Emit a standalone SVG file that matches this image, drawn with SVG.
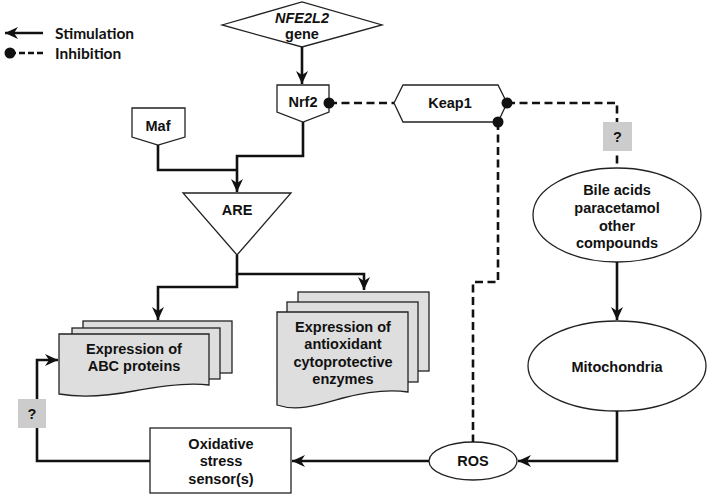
<svg xmlns="http://www.w3.org/2000/svg" width="709" height="497" viewBox="0 0 709 497">
<style>
.t{font-family:"Liberation Sans",Arial,sans-serif;font-weight:bold;font-size:14.5px;fill:#111;text-anchor:middle}
.lg{font-family:Lato,"Liberation Sans",sans-serif;font-weight:bold;font-size:15.5px;fill:#111}
.sh{fill:#fff;stroke:#222;stroke-width:1.3}
.doc{fill:#dedede;stroke:#222;stroke-width:1.3}
.q{fill:#cccccc}
.s{fill:none;stroke:#111;stroke-width:2.6}
.d{fill:none;stroke:#111;stroke-width:2.6;stroke-dasharray:8,4.5}
</style>
<defs>
<marker id="ar" markerUnits="userSpaceOnUse" markerWidth="14" markerHeight="14" viewBox="0 0 14 14" refX="13" refY="7" orient="auto">
<path d="M0,1 L13,7 L0,13 L4,7 Z" fill="#111"/>
</marker>
<marker id="dot" markerUnits="userSpaceOnUse" markerWidth="14" markerHeight="14" viewBox="0 0 14 14" refX="7" refY="7" orient="auto">
<circle cx="7" cy="7" r="5.5" fill="#111"/>
</marker>
</defs>

<g id="legend">
<path class="s" d="M43,33 H5" marker-end="url(#ar)"/>
<path class="d" d="M10,53 H43" marker-start="url(#dot)" style="stroke-dasharray:6,3"/>
<text class="lg" x="55" y="39">Stimulation</text>
<text class="lg" x="55" y="59">Inhibition</text>
</g>

<g id="nfe2l2">
<polygon class="sh" points="222,25 302,2 382,25 302,47"/>
<text class="t" x="302" y="23" font-style="italic">NFE2L2</text>
<text class="t" x="302" y="39">gene</text>
</g>

<g id="nrf2">
<polygon class="sh" points="277,85 329,85 329,112 303,122 277,112"/>
<text class="t" x="303" y="107">Nrf2</text>
</g>

<g id="maf">
<polygon class="sh" points="132,108 185,108 185,137 158,145 132,137"/>
<text class="t" x="158" y="131">Maf</text>
</g>

<g id="keap1">
<polygon class="sh" points="394,103 403,85 498,85 507,103 498,122 403,122"/>
<text class="t" x="450" y="108">Keap1</text>
</g>

<g id="are">
<polygon class="sh" points="183,193 291,193 237,255"/>
<text class="t" x="237" y="215">ARE</text>
</g>

<g id="abc">
<rect class="doc" x="83" y="321" width="149" height="52"/>
<rect class="doc" x="72" y="328" width="148" height="51"/>
<path class="doc" d="M59,334 H209 V385 C186,382 160,386 134,391 C108,396 82,398 59,394 Z"/>
<text class="t" x="134" y="354">Expression of</text>
<text class="t" x="134" y="371">ABC proteins</text>
</g>

<g id="enzymes">
<rect class="doc" x="298" y="292" width="131" height="79"/>
<rect class="doc" x="287" y="302" width="131" height="80"/>
<path class="doc" d="M277,312 H408 V392 C388,389 366,392 343,398 C318,405 298,412 277,405 Z"/>
<text class="t" x="343" y="332">Expression of</text>
<text class="t" x="343" y="349">antioxidant</text>
<text class="t" x="343" y="367">cytoprotective</text>
<text class="t" x="343" y="384">enzymes</text>
</g>

<g id="sensor">
<rect class="sh" x="150" y="428" width="141" height="65"/>
<text class="t" x="221" y="449">Oxidative</text>
<text class="t" x="221" y="466">stress</text>
<text class="t" x="221" y="484">sensor(s)</text>
</g>

<g id="ros">
<ellipse class="sh" cx="473" cy="461" rx="44" ry="19"/>
<text class="t" x="473" y="466">ROS</text>
</g>

<g id="mito">
<ellipse class="sh" cx="617" cy="366" rx="89" ry="45"/>
<text class="t" x="617" y="372">Mitochondria</text>
</g>

<g id="bile">
<ellipse class="sh" cx="617" cy="215" rx="84" ry="47"/>
<text class="t" x="617" y="195">Bile acids</text>
<text class="t" x="617" y="213">paracetamol</text>
<text class="t" x="617" y="231">other</text>
<text class="t" x="617" y="248">compounds</text>
</g>

<g id="connectors">
<path class="s" d="M302,47 V84" marker-end="url(#ar)"/>
<path class="s" d="M303,122 V156 H237 V192" marker-end="url(#ar)"/>
<path class="s" d="M158,145 V170 H237"/>
<path class="s" d="M237,255 V274 H364 V290" marker-end="url(#ar)"/>
<path class="s" d="M237,274 V287 H158 V320" marker-end="url(#ar)"/>
<path class="s" d="M617,262 V320" marker-end="url(#ar)"/>
<path class="s" d="M617,411 V461 H518" marker-end="url(#ar)"/>
<path class="s" d="M429,461 H292" marker-end="url(#ar)"/>
<path class="s" d="M150,461 H37 V360 H58" marker-end="url(#ar)"/>
<path class="d" d="M329,103 H394" marker-start="url(#dot)"/>
<path class="d" d="M507,103 H617 V167" marker-start="url(#dot)"/>
<path class="d" d="M498,122 V282 H473 V442" marker-start="url(#dot)"/>
<rect class="q" x="603" y="122" width="29" height="29"/>
<text class="t" x="617.5" y="142">?</text>
<rect class="q" x="18" y="399" width="28" height="29"/>
<text class="t" x="32" y="419">?</text>
</g>
</svg>
